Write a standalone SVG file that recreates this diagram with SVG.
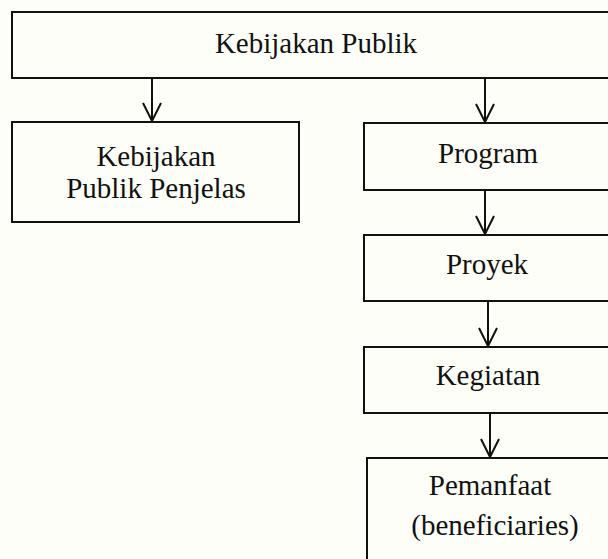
<svg xmlns="http://www.w3.org/2000/svg" width="608" height="559" viewBox="0 0 608 559">
  <defs>
    <style>
      .box { fill: #fefef8; stroke: #111; stroke-width: 2; }
      .lbl { font-family: "Liberation Serif", "Times New Roman", serif; font-size: 29px; fill: #111; text-anchor: middle; }
      .conn { stroke: #111; stroke-width: 2; fill: none; }
    </style>
    <marker id="arr" markerUnits="userSpaceOnUse" markerWidth="24" markerHeight="24" viewBox="-20 -12 22 24" refX="0" refY="0" orient="auto">
      <path d="M-18,-9 L0,0 L-18,9" fill="none" stroke="#111" stroke-width="2"/>
    </marker>
  </defs>
  <rect x="0" y="0" width="608" height="559" fill="#fefef8"/>
  <g id="connectors">
    <line class="conn" x1="152" y1="78" x2="152" y2="121" marker-end="url(#arr)"/>
    <line class="conn" x1="485" y1="78" x2="485" y2="122" marker-end="url(#arr)"/>
    <line class="conn" x1="485" y1="190" x2="485" y2="234" marker-end="url(#arr)"/>
    <line class="conn" x1="488" y1="301" x2="488" y2="346" marker-end="url(#arr)"/>
    <line class="conn" x1="490" y1="413" x2="490" y2="457" marker-end="url(#arr)"/>
  </g>
  <g id="kebijakan-publik">
    <rect class="box" x="12" y="12" width="610" height="66"/>
    <text class="lbl" x="316" y="53">Kebijakan Publik</text>
  </g>
  <g id="kebijakan-publik-penjelas">
    <rect class="box" x="12" y="122" width="287" height="100"/>
    <text class="lbl" x="156" y="166">Kebijakan</text>
    <text class="lbl" x="156" y="198">Publik Penjelas</text>
  </g>
  <g id="program">
    <rect class="box" x="364" y="123" width="260" height="67"/>
    <text class="lbl" x="488" y="163">Program</text>
  </g>
  <g id="proyek">
    <rect class="box" x="364" y="235" width="260" height="66"/>
    <text class="lbl" x="487" y="274">Proyek</text>
  </g>
  <g id="kegiatan">
    <rect class="box" x="364" y="347" width="260" height="66"/>
    <text class="lbl" x="488" y="385">Kegiatan</text>
  </g>
  <g id="pemanfaat">
    <rect class="box" x="367" y="458" width="260" height="120"/>
    <text class="lbl" x="490" y="495">Pemanfaat</text>
    <text class="lbl" x="495" y="535">(beneficiaries)</text>
  </g>
</svg>
